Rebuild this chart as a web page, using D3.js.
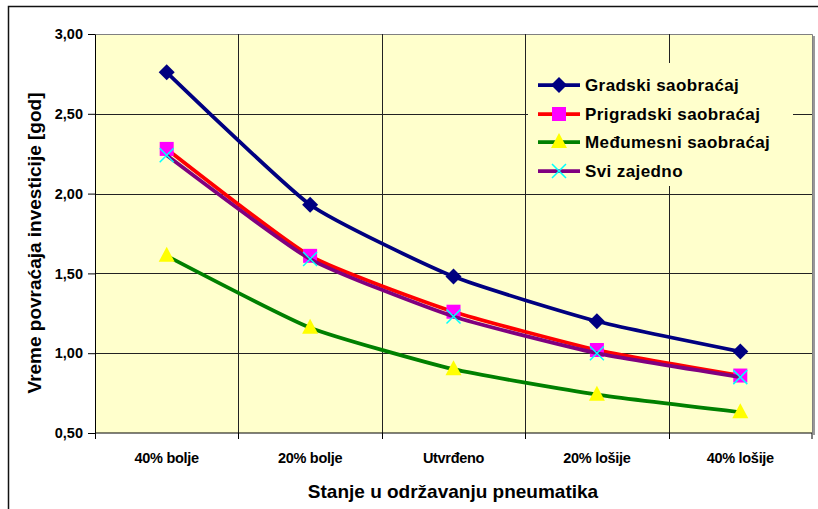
<!DOCTYPE html>
<html><head><meta charset="utf-8">
<script src="https://cdn.jsdelivr.net/npm/d3@7"></script>
<style>
body{margin:0;background:#fff}
svg{display:block}
text{font-family:"Liberation Sans",Arial,sans-serif;font-weight:bold;fill:#000}
</style>
</head><body>
<svg id="chart" width="818" height="509"></svg>
<script>
// Payback period of the investment per tyre-maintenance scenario
const categories = ["40% bolje", "20% bolje", "Utvrđeno", "20% lošije", "40% lošije"];
const gradski    = [2.76, 1.93, 1.48, 1.20, 1.01];
const prigradski = [2.28, 1.61, 1.26, 1.02, 0.86];
const medjumesni = [1.61, 1.16, 0.90, 0.74, 0.63];
const sviZajedno = [2.24, 1.59, 1.23, 1.00, 0.85];
const seriesNames = ["Gradski saobraćaj", "Prigradski saobraćaj", "Međumesni saobraćaj", "Svi zajedno"];
const yTicks = [0.5, 1.0, 1.5, 2.0, 2.5, 3.0];
const xTitle = "Stanje u održavanju pneumatika";
const yTitle = "Vreme povraćaja investicije [god]";

const seriesValues = [gradski, prigradski, medjumesni, sviZajedno];
const styles = [
  {line: "#000080", marker: "diamond",  fill: "#000080"},
  {line: "#FF0000", marker: "square",   fill: "#FF00FF"},
  {line: "#008000", marker: "triangle", fill: "#FFFF00"},
  {line: "#800080", marker: "cross",    fill: "#00FFFF"}
];

const svg = d3.select("#chart");
const plot = {left: 95, right: 812, top: 34, bottom: 433};

const x = d3.scaleBand().domain(categories).range([plot.left, plot.right]).padding(0);
const cx = d => x(d) + x.bandwidth() / 2;
const y = d3.scaleLinear().domain([0.5, 3.0]).range([plot.bottom, plot.top]);
const fmt = v => d3.format(".2f")(v).replace(".", ",");

// outer chart frame
svg.append("path").attr("d", "M8.5,509 V6.5 H818").attr("fill", "none")
  .attr("stroke", "#111").attr("stroke-width", 1.5);

// plot area
svg.append("rect").attr("x", plot.left).attr("y", plot.top)
  .attr("width", plot.right - plot.left).attr("height", plot.bottom - plot.top)
  .attr("fill", "#FFFFCC");
svg.append("path")
  .attr("d", `M${plot.left},${plot.top + 0.5} H${plot.right + 0.5} V${plot.bottom}`)
  .attr("fill", "none").attr("stroke", "#808080").attr("stroke-width", 1);
svg.append("line").attr("x1", plot.right + 2).attr("x2", plot.right + 2)
  .attr("y1", plot.top + 2).attr("y2", plot.bottom + 2)
  .attr("stroke", "#999").attr("stroke-width", 2);

// gridlines
const grid = svg.append("g").attr("stroke", "#222").attr("stroke-width", 1).attr("shape-rendering", "crispEdges");
grid.selectAll(".hg").data(yTicks.slice(1, -1)).join("line")
  .attr("x1", plot.left).attr("x2", plot.right)
  .attr("y1", d => Math.round(y(d)) + 0.5).attr("y2", d => Math.round(y(d)) + 0.5);
grid.selectAll(".vg").data(categories.slice(1)).join("line")
  .attr("x1", d => Math.round(x(d)) + 0.5).attr("x2", d => Math.round(x(d)) + 0.5)
  .attr("y1", plot.top).attr("y2", plot.bottom);

// y axis
const yAxis = svg.append("g").attr("transform", `translate(${plot.left},0)`)
  .call(d3.axisLeft(y).tickValues(yTicks).tickFormat(fmt).tickSize(7).tickSizeOuter(0));
yAxis.select(".domain").attr("stroke", "#000");
yAxis.selectAll(".tick line").attr("stroke", "#000");
yAxis.selectAll(".tick text").attr("x", -12).attr("font-size", 14.5)
  .attr("font-family", "Liberation Sans, Arial, sans-serif").attr("font-weight", "bold");

// x axis with ticks between categories
const xAxis = svg.append("g").attr("transform", `translate(0,${plot.bottom})`);
xAxis.append("line").attr("x1", plot.left).attr("x2", plot.right).attr("stroke", "#000");
xAxis.selectAll(".xt").data(categories.concat([null])).join("line")
  .attr("x1", (d, i) => i < categories.length ? Math.round(x(d)) + 0.5 : plot.right)
  .attr("x2", (d, i) => i < categories.length ? Math.round(x(d)) + 0.5 : plot.right)
  .attr("y1", 0).attr("y2", 6).attr("stroke", "#000");
xAxis.selectAll(".xl").data(categories).join("text")
  .attr("x", d => cx(d)).attr("y", 30).attr("text-anchor", "middle")
  .attr("font-size", 14.5).attr("letter-spacing", -0.3).text(d => d);

// axis titles
svg.append("text").attr("x", 453).attr("y", 498)
  .attr("text-anchor", "middle").attr("font-size", 19).text(xTitle);
svg.append("text").attr("transform", "translate(41,243) rotate(-90)")
  .attr("text-anchor", "middle").attr("font-size", 19).text(yTitle);

// marker shapes
function marker(g, type, fill, px, py) {
  if (type === "diamond") {
    g.append("path").attr("d", `M${px},${py - 8} L${px + 8},${py} L${px},${py + 8} L${px - 8},${py} Z`).attr("fill", fill);
  } else if (type === "square") {
    g.append("rect").attr("x", px - 7).attr("y", py - 7).attr("width", 14).attr("height", 14).attr("fill", fill);
  } else if (type === "triangle") {
    g.append("path").attr("d", `M${px},${py - 9} L${px + 8},${py + 6} L${px - 8},${py + 6} Z`).attr("fill", fill);
  } else {
    g.append("path").attr("d", `M${px - 7},${py - 7} L${px + 7},${py + 7} M${px + 7},${py - 7} L${px - 7},${py + 7}`)
      .attr("stroke", fill).attr("stroke-width", 1.5).attr("fill", "none");
  }
}

// series (lightly smoothed lines)
const lineGen = d3.line().x((d, i) => cx(categories[i])).y(d => y(d)).curve(d3.curveCardinal.tension(0.5));
seriesValues.forEach((vals, si) => {
  const g = svg.append("g");
  g.append("path").datum(vals).attr("d", lineGen).attr("fill", "none")
    .attr("stroke", styles[si].line).attr("stroke-width", 3.75).attr("stroke-linejoin", "round");
  vals.forEach((v, i) => marker(g, styles[si].marker, styles[si].fill, cx(categories[i]), y(v)));
});

// legend
const legend = svg.append("g");
legend.append("rect").attr("x", 528).attr("y", 63).attr("width", 265).attr("height", 123).attr("fill", "#FFFFCC");
const rowY = [85, 114, 142, 171];
seriesNames.forEach((name, i) => {
  const g = legend.append("g");
  g.append("line").attr("x1", 538).attr("x2", 580).attr("y1", rowY[i]).attr("y2", rowY[i])
    .attr("stroke", styles[i].line).attr("stroke-width", 3.75);
  marker(g, styles[i].marker, styles[i].fill, 559, rowY[i]);
  g.append("text").attr("x", 585).attr("y", rowY[i] + 6).attr("font-size", 17)
    .attr("letter-spacing", 0.4).text(name);
});
</script>
</body></html>
